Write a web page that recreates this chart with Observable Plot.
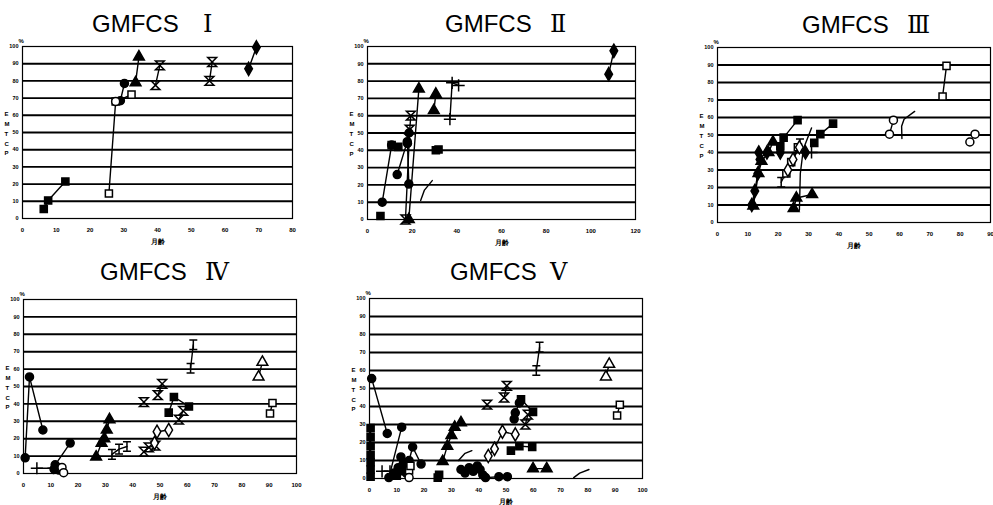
<!DOCTYPE html>
<html><head><meta charset="utf-8">
<script src="https://cdn.jsdelivr.net/npm/d3@7"></script>
<script src="https://cdn.jsdelivr.net/npm/@observablehq/plot@0.6"></script>
<style>
body{margin:0;background:#fff;}
#wrap{position:relative;width:993px;height:505px;overflow:hidden;background:#fff;font-family:"Liberation Sans",Arial,sans-serif;}
.t{position:absolute;font-size:24px;color:#000;white-space:nowrap;line-height:1;}
.n{position:absolute;font-size:24px;color:#000;white-space:nowrap;line-height:1;font-family:"DejaVu Serif","Liberation Serif",serif;}
.panel{position:absolute;}
</style></head><body><div id="wrap"></div>
<script>
// ---- data: [series, age in months, %] ----
const gmfcs1 = [
  ["sq1",6.3,5.5],["sq1",7.6,10.5],["sq1",12.7,21.5],
  ["osq1",25.6,14.5],["osq1",27.6,68],["osq1",32.3,72],
  ["oci1",27.6,68],
  ["ci1",29,68.5],["ci1",30.2,78.5],
  ["tr1",33.5,79],["tr1",34.5,94],
  ["x1",39.4,77.5],["x1",40.7,89],
  ["x2",55.4,80],["x2",56.2,91],
  ["di1",67,87],["di1",69.3,99.5]
];
const gmfcs2 = [
  ["sq1",5.8,2],
  ["ci1",6.6,10],["ci1",10.8,43],
  ["sq2",10.8,43],["sq2",13.8,42],
  ["ci2",13.3,26],["ci2",17.8,45],["ci2",18.6,50],
  ["ci3",18.5,20.5],["ci3",17.9,44],
  ["x1",17,0],["x1",18.9,52],["x1",19.4,60],
  ["tr1",18.5,0],["tr1",23,75.5],
  ["tr2",29.7,63],["tr2",30.6,72.5],
  ["sq3",30.6,40],["sq3",31.8,40.5],
  ["pl1",36.9,58],["pl1",37.9,79],["pl1",40.8,77.5],
  ["cv1",23.8,11],["cv1",25.5,17],["cv1",29,22.5],
  ["di1",108,84],["di1",110.3,97.5]
];
const gmfcs3 = [
  ["di1",11.3,10],["di1",12.3,18],["di1",13.3,28],["di1",14,36],
  ["di2",13.6,40],["di2",16.3,40],["di2",20.7,40],["di2",29,40],
  ["pl1",31,40],
  ["tr1",11.8,9.5],["tr1",13.5,28],["tr1",14.5,35],["tr1",16.8,40],["tr1",18.3,46],
  ["sq1",20.7,43.5],["sq1",21.8,48.5],["sq1",26.4,58.5],
  ["sq2",31.9,45.5],["sq2",33.9,50.5],["sq2",38.1,56.5],
  ["osq1",22.7,28],["osq1",24.3,34.5],["osq1",26.5,43],
  ["odi1",23.2,30],["odi1",24.9,36],["odi1",27,43],
  ["I1",21,23],["I1",27.2,45],
  ["cv1",27,7],["cv1",27.3,28],["cv1",28.3,42],["cv1",31,54],
  ["tr2",25.1,8],["tr2",26,14],["tr2",31.2,16],
  ["oci1",56.7,50.5],["oci1",58,58.5],
  ["cv2",60.8,48],["cv2",60.7,55],["cv2",61.5,59],["cv2",65,63.5],
  ["osq2",74.2,72],["osq2",75.5,89.5],
  ["oci2",83.2,46],["oci2",84.9,50.5]
];
const gmfcs4 = [
  ["ci1",0.6,9],["ci1",2.2,55.5],["ci1",7.1,25],
  ["pl1",4.9,3],["pl1",11,3],
  ["ci2",11.6,5],["ci2",17.1,17.5],
  ["ci3",11.2,2.5],["ci3",12,4],["ci3",13,2],
  ["oci1",14.1,3.5],["oci1",14.7,0.5],
  ["tr1",26.6,9.5],["tr1",28.6,17.5],["tr1",29.6,20],["tr1",30.5,25],["tr1",31.5,31],
  ["I1",32.4,11],["I1",35,14],["I1",37.9,15.5],
  ["x1",44.1,41],
  ["x2",49.2,45],["x2",50.8,51.5],
  ["sq1",53.2,35],["sq1",55.1,44],["sq1",60.6,38.5],
  ["x3",56.9,31],["x3",58.5,36],
  ["odi1",48,17.5],["odi1",48.9,24],["odi1",53.2,25],
  ["x4",44.1,12.5],["x4",45.9,15],["x4",48.3,16],
  ["I2",61.2,60.5],["I2",62.2,74],
  ["otr1",86.1,55.5],["otr1",87.5,64],
  ["osq1",90.3,34.5],["osq1",91.2,40.5]
];
const gmfcs5 = [
  ["sq0",0.4,1],["sq0",0.4,5],["sq0",0.4,9],["sq0",0.4,13],["sq0",0.4,18],["sq0",0.4,23],["sq0",0.4,28],
  ["ci1",0.8,55.5],["ci1",6.5,25],
  ["pl1",4.6,4],["pl1",7.5,4],
  ["ci2",7.1,0.5],["ci2",11.8,28.5],
  ["ci3",9,3],["ci3",10.5,6],["ci3",11.5,12],["ci3",12.5,9],["ci3",13.5,3],
  ["sq1",10,1.5],["sq1",11.2,4],["sq1",12.8,7],
  ["osq1",14.5,4.5],["osq1",15,7],
  ["oci1",14.5,0.5],
  ["ci4",14.5,10],["ci4",15.8,17.5],["ci4",18.9,8],
  ["sq2",25,0.5],["sq2",25.5,2],
  ["tr1",26.8,9.5],["tr1",28.5,18],["tr1",30,24],["tr1",31.2,28.5],["tr1",33.5,31],
  ["cv1",32.6,10],["cv1",35,14],["cv1",37.5,15.5],
  ["ci5",33.5,5],["ci5",35,3],["ci5",36.5,6],["ci5",38,4],["ci5",39.5,7],["ci5",40.5,5],["ci5",41.5,2],
  ["ci6",42.5,0.5],["ci6",47.4,1],["ci6",50.5,1],
  ["x1",43.1,41],
  ["x2",49.3,45],["x2",50.3,51.5],
  ["ci7",53,33],["ci7",53.4,36.5],["ci7",54.9,42],
  ["sq3",55.5,44],["sq3",59.9,37],
  ["x3",57.1,30],["x3",58,35.5],
  ["odi1",43.5,12.5],["odi1",45.8,16.5],["odi1",48.7,26],["odi1",53.4,24.5],
  ["sq4",51.8,15.5],["sq4",54.9,18],["sq4",59.6,17.5],
  ["tr2",59.9,5.5],["tr2",64.9,5.5],
  ["I1",61.1,60],["I1",62.3,73],
  ["otr1",86.6,56.5],["otr1",87.8,63.5],
  ["osq2",90.7,35],["osq2",91.7,41],
  ["cv2",74.8,0.5],["cv2",77,3],["cv2",80.4,5]
];
const titles = ["Ⅰ","Ⅱ","Ⅲ","Ⅳ","V"];
const yTicks = [0,10,20,30,40,50,60,70,80,90,100];
const xAxes = [
  [0,10,20,30,40,50,60,70,80],
  [0,20,40,60,80,100,120],
  [0,10,20,30,40,50,60,70,80,90],
  [0,10,20,30,40,50,60,70,80,90,100],
  [0,10,20,30,40,50,60,70,80,90,100]
];

// ---- symbols ----
const hourglass = {draw(ctx, size){const r=Math.sqrt(size/Math.PI)*1.1;
  ctx.moveTo(-r,-r);ctx.lineTo(r,-r);ctx.lineTo(-r,r);ctx.lineTo(r,r);ctx.closePath();}};
const ibeam = {draw(ctx, size){const r=Math.sqrt(size/Math.PI);
  ctx.moveTo(-r,-r*1.2);ctx.lineTo(r,-r*1.2);ctx.moveTo(0,-r*1.2);ctx.lineTo(0,r*1.2);
  ctx.moveTo(-r,r*1.2);ctx.lineTo(r,r*1.2);}};
const STY = {
  sq:{symbol:"square",fill:"#000"}, osq:{symbol:"square",fill:"#fff"},
  ci:{symbol:"circle",fill:"#000"}, oci:{symbol:"circle",fill:"#fff"},
  di:{symbol:"diamond",fill:"#000"}, odi:{symbol:"diamond",fill:"#fff"},
  tr:{symbol:"triangle",fill:"#000"}, otr:{symbol:"triangle",fill:"#fff"},
  x:{symbol:hourglass,fill:"none"}, pl:{symbol:"plus",fill:"none"},
  I:{symbol:ibeam,fill:"none"}, cv:null
};

const layout = [
  {left:0,   top:34,  width:300, height:214, ml:22, mr:8, mt:12, mb:30, tx:92,  nx:203, ty:12},
  {left:345, top:34,  width:298, height:215, ml:22, mr:8, mt:12, mb:30, tx:445, nx:550, ty:12},
  {left:695, top:35,  width:298, height:217, ml:22, mr:3, mt:12, mb:30, tx:802, nx:907, ty:13},
  {left:1,   top:287, width:303, height:216, ml:22, mr:8, mt:12, mb:30, tx:100, nx:205, ty:260},
  {left:347, top:286, width:303, height:219, ml:22, mr:8, mt:12, mb:27, tx:450, nx:550, ty:260}
];
const datasets = [gmfcs1,gmfcs2,gmfcs3,gmfcs4,gmfcs5];
const wrap = document.getElementById("wrap");

datasets.forEach((data, i) => {
  const L = layout[i];
  const rows = data.map(([series,x,y]) => ({series,x,y}));
  const names = [...new Set(rows.map(d => d.series))];
  const ticksX = xAxes[i];
  const marks = [
    Plot.gridY(yTicks.filter(v => v>0 && v<100), {stroke:"#000", strokeOpacity:1, strokeWidth:1.9}),
    Plot.ruleY([0], {stroke:"#000", strokeWidth:1, strokeDasharray:"8,2"}),
    Plot.frame({stroke:"#000", strokeWidth:1.2}),
    Plot.axisY(yTicks, {tickSize:0, tickPadding:4, fontSize:5.5, fontWeight:"bold", label:null}),
    Plot.axisX(ticksX, {tickSize:0, tickPadding:9, fontSize:6, fontWeight:"bold", label:null}),
    Plot.text(["月齢"], {frameAnchor:"bottom", dy:25, fontSize:7, fontWeight:"bold"}),
    Plot.text(["%"], {frameAnchor:"top-left", dx:-4, dy:-8, fontSize:6, fontWeight:"bold"}),
    Plot.text(["E\nM\nT\nC\nP"], {frameAnchor:"left", dx:-18, fontSize:6, fontWeight:"bold", lineHeight:1.65}),
    Plot.line(rows, {x:"x", y:"y", z:"series", stroke:"#000", strokeWidth:1.4})
  ];
  const order = names.slice().sort((a,b) => (a.startsWith("o")?1:0) - (b.startsWith("o")?1:0));
  for (const s of order) {
    const st = STY[s.replace(/\d+$/,"")];
    if (!st) continue;
    marks.push(Plot.dot(rows.filter(d => d.series === s), {
      x:"x", y:"y", symbol:st.symbol, r:4, fill:st.fill, stroke:"#000", strokeWidth:1.5
    }));
  }
  const chart = Plot.plot({
    width:L.width, height:L.height,
    marginLeft:L.ml, marginRight:L.mr, marginTop:L.mt, marginBottom:L.mb,
    x:{domain:[ticksX[0], ticksX[ticksX.length-1]], label:null},
    y:{domain:[0,100], label:null},
    style:{fontFamily:"Liberation Sans, Arial, sans-serif", color:"#000", background:"#fff", overflow:"visible"},
    marks
  });
  const box = document.createElement("div");
  box.className = "panel";
  box.style.left = L.left + "px"; box.style.top = L.top + "px";
  box.appendChild(chart);
  wrap.appendChild(box);
  const t = document.createElement("div");
  t.className = "t"; t.textContent = "GMFCS";
  t.style.left = L.tx + "px"; t.style.top = L.ty + "px";
  wrap.appendChild(t);
  const n = document.createElement("div");
  n.className = "n"; n.textContent = titles[i];
  n.style.left = L.nx + "px"; n.style.top = L.ty + "px";
  wrap.appendChild(n);
});
</script></body></html>
